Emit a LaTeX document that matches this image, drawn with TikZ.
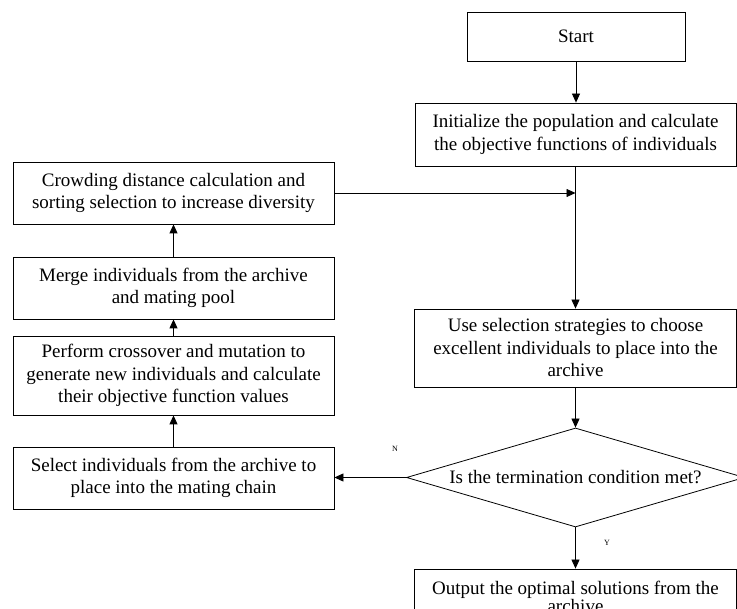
\documentclass[tikz,border=0pt]{standalone}
\usepackage{fontspec}
\setmainfont{Liberation Serif}
\usetikzlibrary{shapes.geometric,arrows.meta}
\begin{document}
\begin{tikzpicture}[x=1pt,y=-1pt,
  box/.style={draw,line width=0.8pt,align=center,inner sep=0pt,font=\fontsize{19}{22.5}\selectfont},
  dec/.style={draw,line width=0.8pt,shape=diamond,aspect=3.4,inner sep=0pt,minimum width=338pt,minimum height=99pt,font=\fontsize{19}{22.5}\selectfont},
  arr/.style={draw,line width=0.8pt,-{Triangle[length=9pt,width=8pt]}},
  lab/.style={font=\fontsize{8}{9}\selectfont,inner sep=0pt}]
\useasboundingbox (0,0) rectangle (737,609);
\clip (0,0) rectangle (737,609);
\fill[white] (0,0) rectangle (737,609);
\node[box,minimum width=218pt,minimum height=49pt] (start) at (576,36.5) {Start};
\node[box,minimum width=321pt,minimum height=63pt] (init) at (575.5,134.5) {Initialize the population and calculate\\the objective functions of individuals};
\node[box,minimum width=322pt,minimum height=78pt] (use) at (575.5,348) {Use selection strategies to choose\\excellent individuals to place into the\\archive};
\node[dec] (dia) at (575.5,477.5) {Is the termination condition met?};
\node[box,minimum width=322pt,minimum height=56pt,font=\fontsize{19}{18.5}\selectfont] (out) at (575.5,597) {Output the optimal solutions from the\\archive};
\node[box,minimum width=321pt,minimum height=62pt] (crowd) at (173.5,193) {Crowding distance calculation and\\sorting selection to increase diversity};
\node[box,minimum width=321pt,minimum height=62pt] (merge) at (173.5,288) {Merge individuals from the archive\\and mating pool};
\node[box,minimum width=321pt,minimum height=79pt] (perf) at (173.5,375.5) {Perform crossover and mutation to\\generate new individuals and calculate\\their objective function values};
\node[box,minimum width=321pt,minimum height=62pt] (sel) at (173.5,478) {Select individuals from the archive to\\place into the mating chain};
\node[lab] (n) at (395,449) {N};
\node[lab] (y) at (607,543) {Y};
\coordinate (join) at (init.south |- crowd.east);
\draw[arr] (start.south) -- (start.south |- init.north);
\draw[line width=0.8pt] (init.south) -- (join);
\draw[arr] (join) -- (init.south |- use.north);
\draw[arr] (crowd.east) -- (join);
\draw[arr] (use.south) -- (use.south |- dia.north);
\draw[arr] (dia.south) -- (dia.south |- out.north);
\draw[arr] (dia.west) -- (dia.west -| sel.east);
\draw[arr] (sel.north) -- (perf.south);
\draw[arr] (perf.north) -- (merge.south);
\draw[arr] (merge.north) -- (crowd.south);
\end{tikzpicture}
\end{document}
